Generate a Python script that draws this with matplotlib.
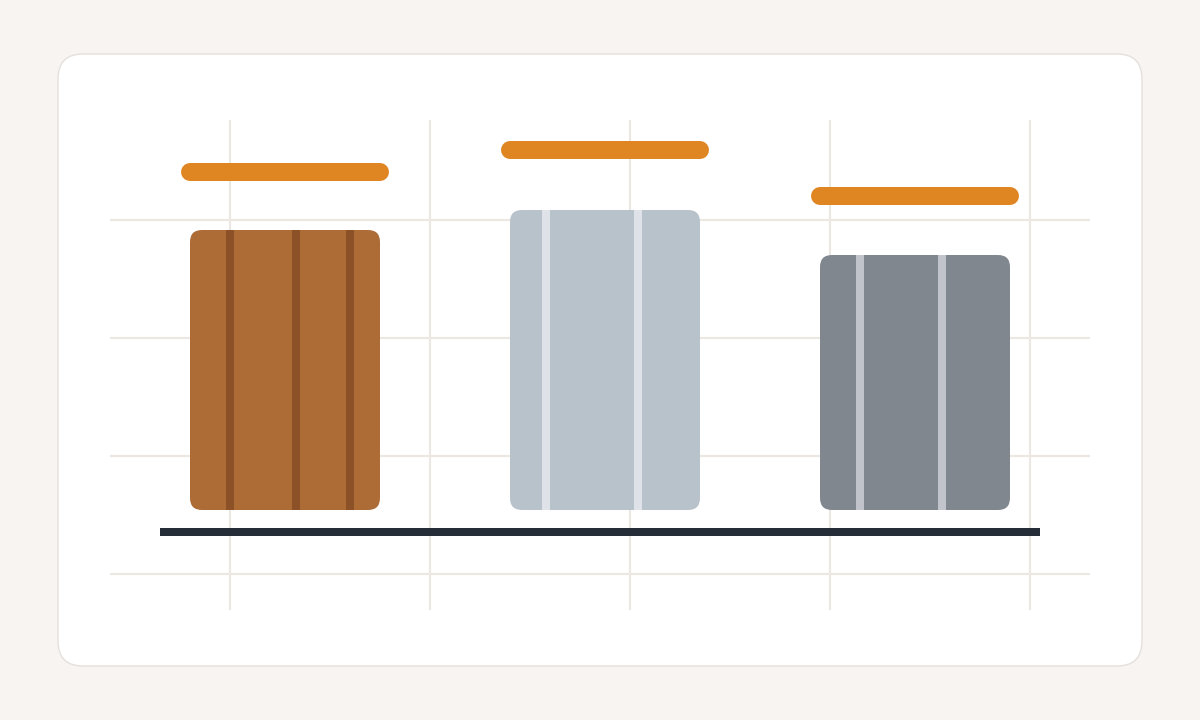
import matplotlib
matplotlib.use("Agg")
import matplotlib.pyplot as plt
from matplotlib.patches import FancyBboxPatch, Rectangle

# data (axis units: 1 unit = 10 px, 0 at bar base)
categories = ["A", "B", "C"]
positions = [28.5, 60.5, 91.5]
values = [28.0, 30.0, 25.5]
targets = [33.8, 36.0, 31.4]
stripe_offsets = [[3.6, 10.2, 15.6], [3.2, 12.4], [3.6, 11.8]]

bar_colors = ["#ad6b36", "#b8c2cb", "#80878f"]
stripe_colors = ["#8c5127", "#dfe3e9", "#c1c5cb"]
cap_color = "#df8623"
base_color = "#252e38"
grid_color = "#ece7e1"
bar_width = 19.0

fig = plt.figure(figsize=(12, 7.2), dpi=100)
fig.patch.set_facecolor("#f7f4f1")

# white card behind the axes
card = FancyBboxPatch((0.58, 0.54), 10.84, 6.12,
                      boxstyle="round,pad=0,rounding_size=0.25",
                      transform=fig.dpi_scale_trans,
                      facecolor="white", edgecolor="#e6e0dc", linewidth=1.0,
                      zorder=-5)
fig.patches.append(card)

ax = fig.add_axes([110 / 1200, 110 / 720, 980 / 1200, 490 / 720])
ax.set_facecolor("none")
ax.set_xlim(11, 109)
ax.set_ylim(-10, 39)
ax.set_xticks([23, 43, 63, 83, 103])
ax.set_yticks([29, 17.2, 5.4, -6.4])
ax.grid(True, color=grid_color, linewidth=1.5)
ax.tick_params(length=0, labelbottom=False, labelleft=False)
for s in ax.spines.values():
    s.set_visible(False)
ax.set_axisbelow(True)

for x, v, t, offs, bc, sc in zip(positions, values, targets, stripe_offsets,
                                 bar_colors, stripe_colors):
    left = x - bar_width / 2
    bar = FancyBboxPatch((left, 0), bar_width, v,
                         boxstyle="round,pad=0,rounding_size=1.2",
                         facecolor=bc, edgecolor="none", zorder=3)
    ax.add_patch(bar)
    for o in offs:
        r = Rectangle((left + o, 0), 0.8, v, facecolor=sc, edgecolor="none", zorder=4)
        r.set_clip_path(bar)
        ax.add_patch(r)
    ax.plot([left, left + bar_width], [t, t], color=cap_color, linewidth=12.96,
            solid_capstyle="round", zorder=5)

ax.plot([16, 104], [-2.2, -2.2], color=base_color, linewidth=5.76,
        solid_capstyle="butt", zorder=5)

fig.savefig("out.png", dpi=100, facecolor=fig.get_facecolor())
